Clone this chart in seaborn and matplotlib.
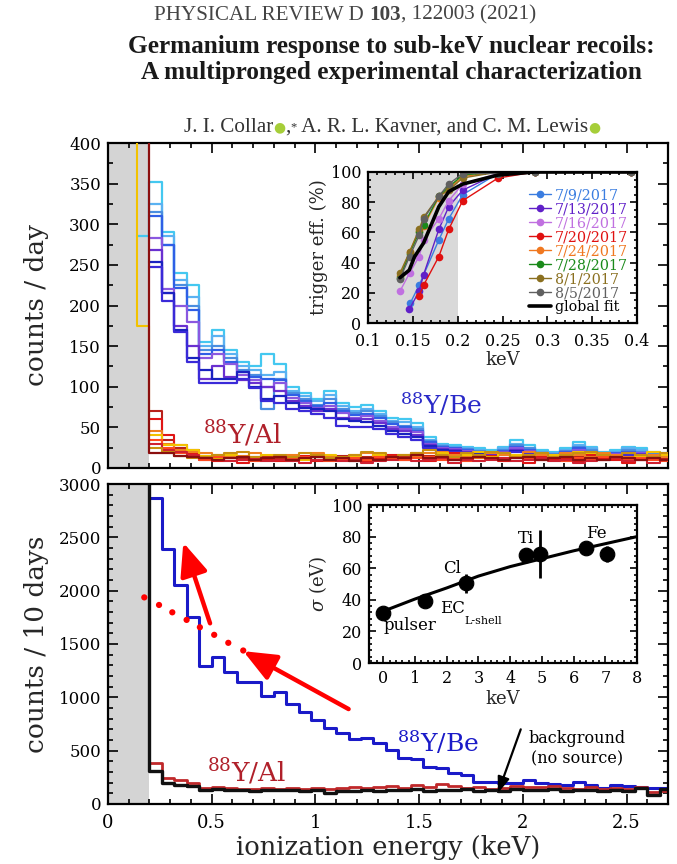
import numpy as np
import pandas as pd
import matplotlib
matplotlib.use("Agg")
import matplotlib.pyplot as plt
import seaborn as sns
from matplotlib.ticker import MultipleLocator, FuncFormatter

# ---------------- data ----------------
bin_start = 0.2
bin_width = 0.06
n_bins = 42

# top panel, 88Y/Be runs (counts / day)
be_colors = ["#44c8f0", "#5ab2f2", "#4a8ee0", "#2f5fe6", "#8a58e0", "#6a30d0", "#1a22c0", "#3a2ad8"]
be_runs = [
    [352, 290, 240, 225, 155, 170, 145, 130, 125, 140, 128, 100, 92, 85, 95, 80, 75, 78, 70, 62, 60, 55, 38, 30, 28, 26, 24, 22, 26, 35, 28, 22, 20, 24, 32, 26, 20, 22, 26, 24, 20, 18],
    [325, 285, 232, 210, 150, 162, 140, 125, 120, 115, 118, 95, 88, 82, 90, 76, 70, 72, 66, 58, 56, 50, 35, 28, 26, 24, 22, 20, 24, 30, 25, 20, 18, 22, 28, 24, 18, 20, 24, 22, 18, 16],
    [315, 275, 225, 200, 145, 150, 135, 120, 115, 72, 110, 92, 85, 78, 85, 72, 68, 70, 64, 56, 52, 48, 33, 27, 25, 23, 21, 19, 22, 28, 24, 19, 17, 21, 26, 22, 17, 19, 22, 20, 17, 15],
    [310, 275, 222, 195, 140, 145, 130, 118, 112, 110, 108, 90, 82, 76, 80, 70, 65, 66, 62, 54, 50, 46, 32, 26, 24, 22, 20, 18, 21, 26, 22, 18, 16, 20, 24, 20, 16, 18, 20, 19, 16, 14],
    [283, 220, 200, 180, 135, 140, 128, 115, 108, 100, 104, 86, 80, 74, 76, 68, 62, 64, 58, 50, 48, 44, 30, 24, 23, 21, 19, 17, 20, 24, 21, 17, 15, 19, 22, 19, 15, 17, 19, 18, 15, 13],
    [268, 215, 175, 150, 110, 125, 112, 108, 105, 100, 95, 82, 76, 70, 72, 62, 60, 60, 55, 48, 45, 40, 28, 23, 22, 20, 18, 16, 19, 22, 20, 16, 14, 18, 20, 18, 14, 16, 18, 17, 14, 12],
    [253, 215, 170, 135, 120, 110, 110, 118, 100, 85, 88, 80, 74, 72, 70, 60, 58, 56, 52, 46, 42, 38, 27, 22, 21, 19, 17, 15, 18, 21, 19, 15, 13, 17, 19, 17, 13, 15, 17, 16, 13, 12],
    [248, 205, 168, 130, 105, 105, 105, 110, 98, 82, 80, 72, 70, 66, 62, 52, 50, 50, 48, 42, 38, 34, 25, 20, 20, 18, 16, 14, 17, 20, 18, 14, 12, 16, 18, 16, 12, 14, 16, 15, 12, 11],
]
be_cyan_pre = [285]            # bin 0.14-0.20 keV of the first run

# top panel, 88Y/Al runs (counts / day)
al_colors = ["#b8201a", "#e01515", "#f08020", "#f2c200", "#ff4a20", "#d02030", "#c89010", "#8b0f0f"]
al_runs = [
    [70, 35, 25, 22, 15, 12, 14, 12, 10, 15, 12, 14, 12, 10, 13, 15, 12, 14, 16, 12, 14, 18, 15, 13, 12, 14, 16, 13, 12, 15, 14, 12, 13, 15, 14, 12, 13, 14, 12, 15, 13, 12],
    [60, 40, 28, 18, 10, 8, 12, 6, 14, 10, 8, 12, 15, 8, 10, 12, 14, 8, 12, 16, 10, 12, 8, 14, 18, 10, 12, 15, 8, 12, 6, 14, 10, 12, 8, 16, 12, 10, 6, 12, 14, 10],
    [45, 30, 22, 20, 18, 16, 14, 15, 18, 12, 14, 16, 12, 18, 14, 12, 16, 18, 14, 12, 16, 14, 18, 20, 16, 14, 12, 18, 16, 14, 20, 16, 14, 18, 16, 14, 18, 16, 14, 12, 16, 14],
    [40, 28, 28, 22, 15, 12, 16, 14, 12, 16, 14, 12, 10, 14, 16, 12, 14, 12, 16, 14, 12, 16, 14, 18, 14, 16, 20, 14, 18, 16, 12, 18, 16, 14, 20, 18, 16, 12, 18, 14, 20, 16],
    [35, 25, 18, 15, 10, 14, 12, 10, 8, 12, 10, 12, 14, 10, 8, 10, 12, 10, 14, 12, 10, 12, 14, 10, 12, 8, 14, 12, 10, 14, 12, 10, 12, 8, 12, 10, 14, 12, 10, 12, 10, 8],
    [30, 22, 20, 16, 12, 10, 8, 10, 12, 8, 10, 8, 6, 10, 12, 8, 10, 6, 8, 10, 12, 8, 10, 12, 6, 10, 8, 10, 12, 8, 10, 12, 8, 10, 6, 8, 10, 12, 8, 10, 6, 10],
    [25, 20, 15, 12, 14, 16, 18, 20, 14, 12, 16, 14, 18, 16, 12, 14, 16, 20, 18, 14, 16, 18, 22, 16, 14, 18, 16, 20, 18, 14, 16, 18, 14, 16, 18, 20, 16, 14, 18, 16, 14, 18],
    [18, 18, 15, 14, 12, 10, 12, 14, 10, 12, 14, 10, 12, 14, 10, 12, 8, 12, 10, 14, 12, 16, 12, 14, 10, 12, 14, 12, 10, 12, 14, 10, 12, 14, 10, 12, 10, 14, 12, 10, 12, 10],
]
al_yellow_pre = [450, 175]     # bins 0.08-0.14, 0.14-0.20 keV
al_darkred_pre = [450]         # bin 0.14-0.20 keV

# bottom panel (counts / 10 days)
ybe_sum = [2866, 2390, 2056, 1757, 1290, 1377, 1237, 1143, 1143, 1009, 1050, 941, 863, 785, 717, 661,
           610, 622, 570, 505, 427, 418, 349, 333, 287, 271, 209, 209, 199, 199, 224, 199, 187, 178,
           209, 178, 146, 178, 168, 162, 146, 146]
yal_sum = [389, 243, 221, 196, 150, 155, 150, 145, 140, 150, 145, 150, 140, 150, 145, 150, 155, 150,
           160, 165, 150, 175, 155, 190, 165, 150, 155, 145, 150, 165, 160, 155, 165, 150, 140, 160,
           145, 150, 140, 160, 115, 125]
bkg_sum = [305, 196, 181, 165, 128, 140, 132, 128, 122, 130, 135, 132, 125, 130, 100, 120, 125, 130,
           125, 135, 130, 140, 125, 135, 130, 140, 120, 130, 125, 145, 135, 130, 140, 125, 130, 135,
           125, 130, 120, 150, 88, 140]
bkg_pre = [4000]

# red dotted guide and arrows (keV, counts/10 days)
dots_E = [0.175, 0.246, 0.31, 0.379, 0.443, 0.512, 0.58, 0.652]
dots_c = [1937, 1866, 1797, 1726, 1657, 1586, 1511, 1439]
arrow1 = [(0.492, 1694), (0.363, 2451)]
arrow2 = [(1.16, 890), (0.652, 1433)]

# inset 1: trigger efficiency
eff_labels = ["7/9/2017", "7/13/2017", "7/16/2017", "7/20/2017", "7/24/2017", "7/28/2017", "8/1/2017", "8/5/2017"]
eff_colors = ["#3a7de0", "#6020c8", "#c070e0", "#e01010", "#f07820", "#1a8a1a", "#8b7020", "#606060"]
eff_x = [
    [0.147, 0.157, 0.179, 0.190, 0.2056, 0.245, 0.286, 0.393],
    [0.146, 0.157, 0.162, 0.179, 0.190, 0.2056, 0.245, 0.286, 0.393],
    [0.1356, 0.1463, 0.157, 0.162, 0.179, 0.190, 0.2056, 0.245, 0.286, 0.393],
    [0.157, 0.162, 0.179, 0.190, 0.2056, 0.245, 0.286, 0.393],
    [0.1356, 0.1463, 0.157, 0.162, 0.179, 0.190, 0.2056, 0.245, 0.286, 0.393],
    [0.1356, 0.1463, 0.157, 0.162, 0.179, 0.190, 0.2056, 0.245, 0.286, 0.393],
    [0.1356, 0.1463, 0.157, 0.162, 0.179, 0.190, 0.2056, 0.245, 0.286, 0.393],
    [0.1356, 0.1463, 0.157, 0.162, 0.179, 0.190, 0.2056, 0.245, 0.286, 0.393],
]
eff_y = [
    [13, 25, 55, 69, 85, 99, 100, 100],
    [9, 21, 32, 62, 77, 88, 99, 100, 100],
    [21, 33, 44, 55, 69, 81, 92, 99, 100, 100],
    [18, 25, 44, 62, 81, 96, 100, 100],
    [31, 47, 61, 64, 83, 89, 97, 100, 100, 100],
    [30, 46, 60, 65, 84, 90, 98, 100, 100, 100],
    [33, 47, 62, 70, 84, 88, 96, 100, 100, 100],
    [29, 44, 58, 69, 84, 92, 99, 99, 100, 100],
]
fit_eff_x = [0.1356, 0.146, 0.152, 0.162, 0.179, 0.190, 0.2056, 0.245, 0.286, 0.40]
fit_eff_y = [30, 35, 44, 53, 77, 87, 92, 98, 100, 100]

# inset 2: energy resolution
sig_E = [0.0, 1.30, 2.62, 4.51, 4.93, 6.40, 7.06]
sig_val = [31.6, 39.0, 50.5, 68.4, 69.0, 72.6, 69.0]
sig_err = [1.5, 1.5, 6, 2, 15, 2, 5]
fit_sig_E = [-0.1, 1, 2, 3, 4, 5, 6, 7, 8]
fit_sig_val = [32, 40.5, 47.5, 55, 61, 66, 71, 75.5, 80]

# ---------------- style ----------------
sns.set_theme(style="ticks")
plt.rcParams["font.family"] = ["DejaVu Serif"]
plt.rcParams["mathtext.fontset"] = "dejavuserif"
plt.rcParams["axes.edgecolor"] = "black"
plt.rcParams["xtick.color"] = "black"
plt.rcParams["ytick.color"] = "black"
plt.rcParams["text.color"] = "black"

W, H = 677, 864
fig = plt.figure(figsize=(W / 100, H / 100), dpi=100)
gfmt = FuncFormatter(lambda v, p: f"{v:g}")


def rect(l, t, r, b):
    return [l / W, 1 - b / H, (r - l) / W, (b - t) / H]


def style(ax, xmaj, xmin, ymaj, ymin, L=7, l=3.5, lab=13):
    ax.xaxis.set_major_locator(MultipleLocator(xmaj))
    ax.xaxis.set_minor_locator(MultipleLocator(xmin))
    ax.yaxis.set_major_locator(MultipleLocator(ymaj))
    ax.yaxis.set_minor_locator(MultipleLocator(ymin))
    ax.xaxis.set_major_formatter(gfmt)
    ax.tick_params(which="both", direction="in", top=True, right=True, width=1.2, labelsize=lab, pad=5)
    ax.tick_params(which="major", length=L)
    ax.tick_params(which="minor", length=l)
    for s in ax.spines.values():
        s.set_linewidth(1.6)
        s.set_color("black")


def hist(ax, values, edges, color, lw, z=2):
    xs = list(edges)
    ys = list(values) + [values[-1]]
    sns.lineplot(x=xs, y=ys, drawstyle="steps-post", estimator=None, sort=False,
                 color=color, linewidth=lw, ax=ax, zorder=z)


edges_main = bin_start + bin_width * np.arange(n_bins + 1)
edges_pre1 = bin_start + bin_width * np.arange(-1, n_bins + 1)
edges_pre2 = bin_start + bin_width * np.arange(-2, n_bins + 1)

# ---------------- top panel ----------------
ax1 = fig.add_axes(rect(108, 143, 668, 468))
ax1.axvspan(0, 0.2, color="#d4d4d4", zorder=0, lw=0)
for i, (vals, c) in enumerate(zip(be_runs, be_colors)):
    if i == 0:
        hist(ax1, be_cyan_pre + vals, edges_pre1, c, 1.6)
    else:
        hist(ax1, vals, edges_main, c, 1.6)
for i, (vals, c) in enumerate(zip(al_runs, al_colors)):
    if i == 3:
        hist(ax1, al_yellow_pre + vals, edges_pre2, c, 1.5, z=3)
    elif i == 7:
        hist(ax1, al_darkred_pre + vals, edges_pre1, c, 1.6, z=3)
    else:
        hist(ax1, vals, edges_main, c, 1.5, z=3)
ax1.set_xlim(0, 2.7)
ax1.set_ylim(0, 400)
style(ax1, 0.5, 0.1, 50, 25, lab=12)
ax1.tick_params(labelbottom=False)
ax1.set_xlabel("")
ax1.set_ylabel("counts / day", fontsize=19)
ax1.yaxis.set_label_coords(-0.105, 0.5)
ax1.text(1.408, 66, "$^{88}$Y/Be", color="#2a2ac8", fontsize=18, va="baseline", ha="left")
ax1.text(0.458, 30, "$^{88}$Y/Al", color="#b0202a", fontsize=19, va="baseline", ha="left", zorder=5)

# ---------------- bottom panel ----------------
ax2 = fig.add_axes(rect(108, 484, 668, 804))
ax2.axvspan(0, 0.2, color="#d4d4d4", zorder=0, lw=0)
hist(ax2, ybe_sum, edges_main, "#1a1ac8", 2.2)
hist(ax2, yal_sum, edges_main, "#c0282a", 2.0)
hist(ax2, bkg_pre + bkg_sum, edges_pre1, "#111111", 2.4)
sns.scatterplot(x=dots_E, y=dots_c, color="red", s=20, edgecolor="none", ax=ax2, zorder=4)
for tail, head in (arrow1, arrow2):
    ax2.annotate("", xy=head, xytext=tail,
                 arrowprops=dict(arrowstyle="-|>,head_length=1.0,head_width=0.42", color="red",
                                 lw=3.2, mutation_scale=20, shrinkA=0, shrinkB=0), zorder=5)
ax2.set_xlim(0, 2.7)
ax2.set_ylim(0, 3000)
style(ax2, 0.5, 0.1, 500, 100, lab=12)
ax2.tick_params(axis="x", which="major", pad=7, labelsize=13)
ax2.set_ylabel("counts / 10 days", fontsize=19)
ax2.yaxis.set_label_coords(-0.105, 0.5)
ax2.set_xlabel("ionization energy (keV)", fontsize=18.5)
ax2.xaxis.set_label_coords(0.5, -0.098)
ax2.xaxis.get_label().set_va("top")
ax2.text(1.392, 489, "$^{88}$Y/Be", color="#1a1ac8", fontsize=18, va="baseline", ha="left")
ax2.text(0.476, 208, "$^{88}$Y/Al", color="#b0202a", fontsize=19, va="baseline", ha="left")
ax2.text(2.26, 519, "background\n(no source)", fontsize=11.5, ha="center", va="center", linespacing=1.25)
ax2.annotate("", xy=(1.88, 103), xytext=(1.99, 700),
             arrowprops=dict(arrowstyle="-|>,head_length=0.8,head_width=0.3", color="black", lw=1.6,
                             mutation_scale=12, shrinkA=0, shrinkB=0))

# ---------------- inset 1: trigger efficiency ----------------
ins1 = fig.add_axes(rect(368, 172, 637, 323))
ins1.set_facecolor("white")
ins1.axvspan(0.1, 0.2, color="#d9d9d9", zorder=0, lw=0)
for xs, ys, c, lab in zip(eff_x, eff_y, eff_colors, eff_labels):
    sns.lineplot(x=xs, y=ys, color=c, marker="o", markersize=5.5, markeredgewidth=0,
                 linewidth=1.0, ax=ins1, label=lab, sort=False, estimator=None)
sns.lineplot(x=fit_eff_x, y=fit_eff_y, color="black", linewidth=2.6, ax=ins1, label="global fit",
             sort=False, estimator=None)
ins1.set_xlim(0.1, 0.4)
ins1.set_ylim(0, 100)
style(ins1, 0.05, 0.01, 20, 5, L=5, l=2.5, lab=11.5)
ins1.tick_params(axis="x", which="major", pad=7)
ins1.set_xticks([0.1, 0.15, 0.2, 0.25, 0.3, 0.35, 0.4])
ins1.set_xticklabels(["0.1", "0.15", "0.2", "0.25", "0.3", "0.35", "0.4"])
ins1.set_xlabel("keV", fontsize=13, labelpad=1)
ins1.set_ylabel("trigger eff. (%)", fontsize=13, labelpad=2)
leg = ins1.legend(loc="upper right", bbox_to_anchor=(1.0, 0.95), frameon=False, fontsize=10.3,
                  handlelength=1.5, handletextpad=0.3, labelspacing=0.0, borderaxespad=0.2)
for txt, c in zip(leg.get_texts(), eff_colors + ["black"]):
    txt.set_color(c)

# ---------------- inset 2: energy resolution ----------------
ins2 = fig.add_axes(rect(369, 505, 637, 663))
ins2.set_facecolor("white")
sns.lineplot(x=fit_sig_E, y=fit_sig_val, color="black", linewidth=2.2, ax=ins2, sort=False, estimator=None)
ins2.errorbar(sig_E, sig_val, yerr=sig_err, fmt="none", ecolor="black", elinewidth=2, capsize=0, zorder=3)
sns.scatterplot(x=sig_E, y=sig_val, color="black", s=110, edgecolor="black", ax=ins2, zorder=4)
ins2.set_xlim(-0.45, 8)
ins2.set_ylim(0, 100)
style(ins2, 1, 0.2, 20, 4, L=5, l=2.5, lab=11.5)
ins2.set_xlabel("keV", fontsize=13, labelpad=2)
ins2.set_ylabel(r"$\sigma$ (eV)", fontsize=13, labelpad=2)
ins2.text(0.0, 21, "pulser", fontsize=12, va="baseline", ha="left")
ins2.text(1.79, 31.6, "EC", fontsize=12, va="baseline", ha="left")
ins2.text(2.57, 24.8, "L-shell", fontsize=8, va="baseline", ha="left")
ins2.text(1.89, 56.8, "Cl", fontsize=12, va="baseline", ha="left")
ins2.text(4.25, 76, "Ti", fontsize=12, va="baseline", ha="left")
ins2.text(6.4, 79, "Fe", fontsize=12, va="baseline", ha="left")

# ---------------- header ----------------
renderer = fig.canvas.get_renderer()


def runs(xc, yc, pieces):
    objs = [fig.text(0, 0, s, ha="left", va="center", **kw) for s, kw in pieces]
    ws = [t.get_window_extent(renderer=renderer).width for t in objs]
    x = xc - sum(ws) / 2
    for t, w in zip(objs, ws):
        t.set_position((x / W, 1 - yc / H))
        x += w


serif = ["Liberation Serif", "DejaVu Serif"]
hk = dict(family=serif, fontsize=15.2, color="#444444")
runs(345, 15, [("PHYSICAL REVIEW D ", hk), ("103", dict(hk, weight="bold")), (", 122003 (2021)", hk)])
tk = dict(family=serif, fontsize=18.2, weight="bold", color="#1a1a1a")
runs(391, 47, [("Germanium response to sub-keV nuclear recoils:", tk)])
runs(391, 73, [("A multipronged experimental characterization", tk)])
ak = dict(family=serif, fontsize=15.2, color="#333333")
gk = dict(family=["DejaVu Sans"], fontsize=10, color="#a6ce39")
runs(392, 127, [("J. I. Collar", ak), ("●", gk), (",", ak), ("*", dict(ak, fontsize=9)),
                (" A. R. L. Kavner, and C. M. Lewis", ak), ("●", gk)])

fig.savefig("out.png", dpi=100)
